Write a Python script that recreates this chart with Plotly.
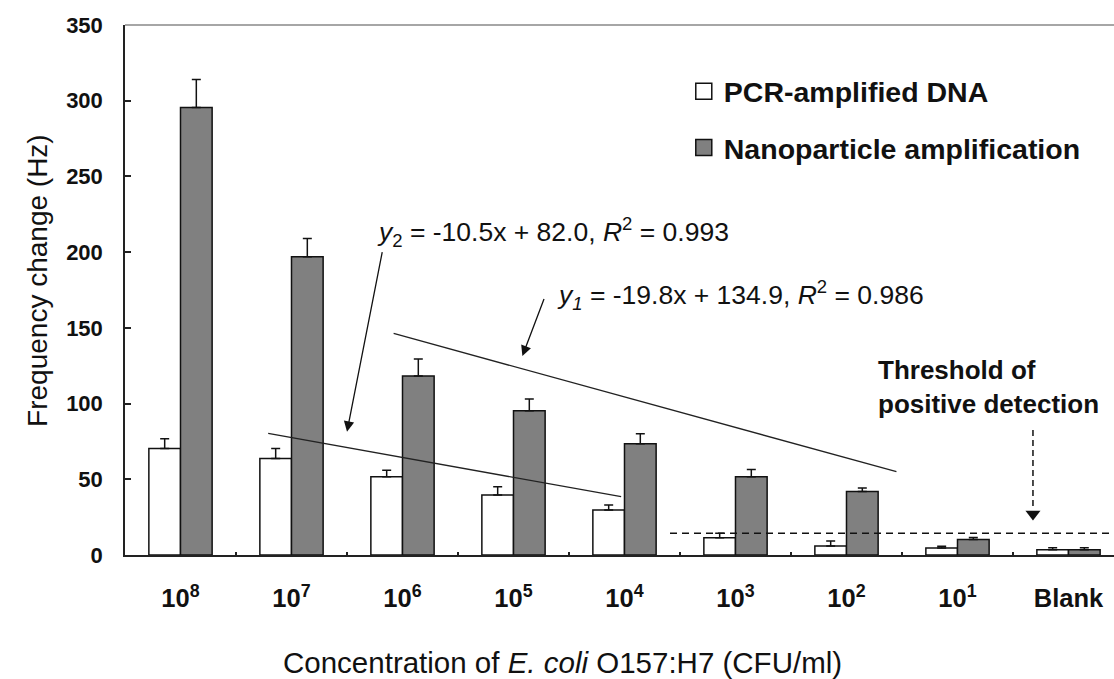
import plotly.graph_objects as go

# ---- data ----
categories = ["10<sup>8</sup>", "10<sup>7</sup>", "10<sup>6</sup>", "10<sup>5</sup>", "10<sup>4</sup>",
              "10<sup>3</sup>", "10<sup>2</sup>", "10<sup>1</sup>", "Blank"]
pcr_values = [70.4, 63.8, 51.7, 39.6, 29.7, 11.4, 5.9, 4.6, 3.4]
pcr_errors = [6.4, 6.6, 4.2, 5.5, 3.3, 2.9, 3.3, 1.2, 1.4]
nano_values = [295.5, 197.0, 118.2, 95.3, 73.5, 51.7, 42.0, 10.2, 3.4]
nano_errors = [18.5, 12.0, 11.2, 7.7, 6.6, 4.8, 2.2, 1.3, 1.4]
threshold_value = 14.3
# hand-drawn regression guide lines (category index, Hz)
fit1_x = [1.92, 6.45]
fit1_y = [146.3, 55.0]
fit2_x = [0.79, 3.97]
fit2_y = [80.3, 38.5]
eq1_text = "<i>y</i><sub><i>1</i></sub> = -19.8x + 134.9, <i>R</i><sup>2</sup> = 0.986"
eq2_text = "<i>y</i><sub>2</sub> = -10.5x + 82.0, <i>R</i><sup>2</sup> = 0.993"

FONT = "Arial, Liberation Sans, sans-serif"
xs = list(range(len(categories)))
series_names = ["PCR-amplified DNA", "Nanoparticle amplification"]
series_colors = ["white", "#808080"]

fig = go.Figure()
for name, vals, errs, col in [(series_names[0], pcr_values, pcr_errors, series_colors[0]),
                              (series_names[1], nano_values, nano_errors, series_colors[1])]:
    fig.add_trace(go.Bar(
        x=xs, y=vals, name=name, showlegend=False,
        marker=dict(color=col, line=dict(color="#111", width=1.5)),
        error_y=dict(type="data", symmetric=False, array=errs, arrayminus=[0] * len(xs),
                     color="#111", thickness=1.5, width=4.5),
    ))

# legend entries (square swatches matching the bar fills)
for i, (name, col) in enumerate(zip(series_names, series_colors)):
    fig.add_trace(go.Scatter(
        x=[None], y=[None], mode="markers", name=name, legendgroup=name,
        marker=dict(symbol="square", size=16, color=col, line=dict(color="#111", width=1.5)),
    ))

# guide lines
fig.add_trace(go.Scatter(x=fit1_x, y=fit1_y, mode="lines", line=dict(color="#222", width=1.3),
                         showlegend=False, hoverinfo="skip"))
fig.add_trace(go.Scatter(x=fit2_x, y=fit2_y, mode="lines", line=dict(color="#222", width=1.3),
                         showlegend=False, hoverinfo="skip"))
# threshold line
fig.add_trace(go.Scatter(x=[4.41, 8.7], y=[threshold_value, threshold_value], mode="lines",
                         line=dict(color="#111", width=1.5, dash="7px,5px"),
                         showlegend=False, hoverinfo="skip"))
# dashed pointer to threshold
fig.add_trace(go.Scatter(x=[7.68, 7.68], y=[82.5, 31], mode="lines",
                         line=dict(color="#111", width=1.5, dash="6px,4px"),
                         showlegend=False, hoverinfo="skip"))
fig.add_trace(go.Scatter(x=[7.68], y=[27], mode="markers",
                         marker=dict(symbol="triangle-down", size=13, color="#111"),
                         showlegend=False, hoverinfo="skip"))

annotations = [
    dict(x=1.5, y=81.4, ax=1.82, ay=201, xref="x", yref="y", axref="x", ayref="y",
         showarrow=True, arrowhead=2, arrowsize=1.6, arrowwidth=1.3, arrowcolor="#111", text="",
         standoff=0),
    dict(x=3.08, y=131.4, ax=3.28, ay=170.1, xref="x", yref="y", axref="x", ayref="y",
         showarrow=True, arrowhead=2, arrowsize=1.6, arrowwidth=1.3, arrowcolor="#111", text="",
         standoff=0),
    dict(x=1.75, y=213, xref="x", yref="y", text=eq2_text, showarrow=False, xanchor="left",
         yanchor="middle", font=dict(family=FONT, size=26.5, color="#111")),
    dict(x=3.37, y=172, xref="x", yref="y", text=eq1_text, showarrow=False, xanchor="left",
         yanchor="middle", font=dict(family=FONT, size=26.5, color="#111")),
    dict(x=6.27, y=111, xref="x", yref="y", text="<b>Threshold of<br>positive detection</b>",
         showarrow=False, xanchor="left", yanchor="middle", align="left",
         font=dict(family=FONT, size=26, color="#111")),
    dict(x=-0.088, y=0.519, xref="paper", yref="paper", text="Frequency change (Hz)",
         textangle=-90, showarrow=False, xanchor="center", yanchor="middle",
         font=dict(family=FONT, size=28, color="#111")),
    dict(x=0.442, y=-0.202, xref="paper", yref="paper",
         text="Concentration of <i>E. coli</i> O157:H7 (CFU/ml)", xanchor="center",
         yanchor="middle", showarrow=False, font=dict(family=FONT, size=29.5, color="#111")),
]

fig.update_layout(
    width=1114, height=679,
    margin=dict(l=125, r=0, t=25, b=124),
    paper_bgcolor="white", plot_bgcolor="white",
    barmode="group", bargap=0.43, bargroupgap=0,
    font=dict(family=FONT, color="#111"),
    annotations=annotations,
    showlegend=True,
    legend=dict(x=0.565, y=0.922, xanchor="left", yanchor="top", bgcolor="rgba(0,0,0,0)",
                font=dict(family=FONT, size=28.5, color="#111", weight="bold"),
                traceorder="grouped", tracegroupgap=16),
    shapes=[dict(type="line", xref="paper", yref="paper", x0=0, x1=1, y0=1, y1=1,
                 line=dict(color="#a6a6a6", width=2))],
)
fig.update_xaxes(
    range=[-0.5, 8.41], tickmode="array", tickvals=xs,
    ticktext=["<b>%s</b>" % c for c in categories],
    ticks="", showline=True, linecolor="#222", linewidth=1.5,
    showgrid=False, zeroline=False, ticklabelstandoff=20,
    tickfont=dict(family=FONT, size=25.5, color="#111"),
    minor=dict(tickmode="array", tickvals=[i + 0.5 for i in range(8)], ticks="inside",
               ticklen=3, tickwidth=1.5, tickcolor="#222", showgrid=False),
)
fig.update_yaxes(
    range=[0, 350], dtick=50, ticks="inside", ticklen=6, tickwidth=1.5, tickcolor="#222",
    showline=True, linecolor="#222", linewidth=1.5, showgrid=False, zeroline=False,
    ticklabelstandoff=16,
    tickfont=dict(family=FONT, size=22, color="#111", weight="bold"),
)

fig.write_html("out.html")
